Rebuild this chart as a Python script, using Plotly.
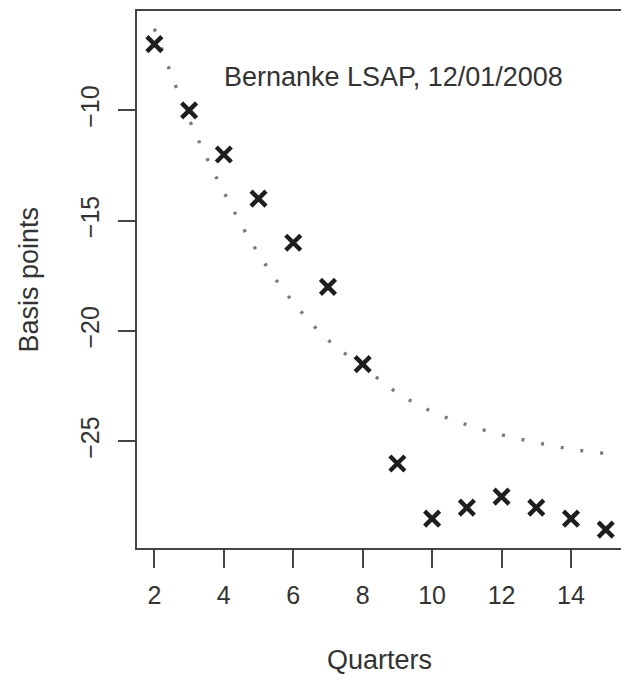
import plotly.graph_objects as go

# Observed response by quarter after the announcement
quarters = [2, 3, 4, 5, 6, 7, 8, 9, 10, 11, 12, 13, 14, 15]
basis_points = [-7, -10, -12, -14, -16, -18, -21.5, -26, -28.5, -28, -27.5, -28, -28.5, -29]

# Smooth reference path drawn as a dotted curve
curve_quarters = [2, 3, 4, 5, 6, 7, 8, 9, 10, 11, 12, 13, 14, 15]
curve_values = [-6.3, -10.4, -13.7, -16.5, -18.7, -20.4, -21.6, -22.8, -23.65, -24.25, -24.7, -25.05, -25.35, -25.55]

x_ticks = [2, 4, 6, 8, 10, 12, 14]
y_ticks = [-10, -15, -20, -25]

label = "Bernanke LSAP, 12/01/2008"
FONT = "Liberation Sans, Arial, Helvetica, sans-serif"
INK = "#333333"
AXIS = "#444444"

fig = go.Figure()

fig.add_trace(go.Scatter(
    x=curve_quarters, y=curve_values, mode="lines",
    line=dict(color="#7a7a7a", width=3.4, dash="3px,17px", shape="spline"),
    hoverinfo="skip", showlegend=False,
))

fig.add_trace(go.Scatter(
    x=quarters, y=basis_points, mode="markers",
    marker=dict(symbol="x-thin", size=15, line=dict(color="#1e1e1e", width=4.4)),
    showlegend=False,
))

fig.add_annotation(
    x=8.89, y=-8.5, xref="x", yref="y", text=label, showarrow=False,
    xanchor="center", yanchor="middle", font=dict(family=FONT, size=27, color=INK),
)

fig.add_annotation(
    x=0.5, y=-0.2086, xref="paper", yref="paper", text="Quarters", showarrow=False,
    xanchor="center", yanchor="middle", font=dict(family=FONT, size=27, color=INK),
)
fig.add_annotation(
    x=-0.2252, y=0.5, xref="paper", yref="paper", text="Basis points", showarrow=False,
    textangle=-90, xanchor="center", yanchor="middle", font=dict(family=FONT, size=27, color=INK),
)

fig.update_xaxes(
    range=[1.50, 15.44], tickvals=x_ticks, ticktext=[str(v) for v in x_ticks],
    showgrid=False, zeroline=False, showline=True, linecolor=AXIS, linewidth=2,
    mirror=True, ticks="outside", ticklen=18, tickwidth=2, tickcolor=AXIS,
    ticklabelstandoff=6, tickfont=dict(family=FONT, size=25, color=INK),
)
fig.update_yaxes(
    range=[-29.83, -5.5], tickvals=y_ticks, ticktext=["\u221210", "\u221215", "\u221220", "\u221225"],
    tickangle=-90, showgrid=False, zeroline=False, showline=True, linecolor=AXIS, linewidth=2,
    mirror=False, ticks="outside", ticklen=17, tickwidth=2, tickcolor=AXIS,
    ticklabelstandoff=9, tickfont=dict(family=FONT, size=25, color=INK),
)

fig.update_layout(
    width=621, height=674,
    margin=dict(l=137, r=0, t=11, b=126),
    paper_bgcolor="white", plot_bgcolor="white",
    showlegend=False,
)

fig.write_html("out.html")
